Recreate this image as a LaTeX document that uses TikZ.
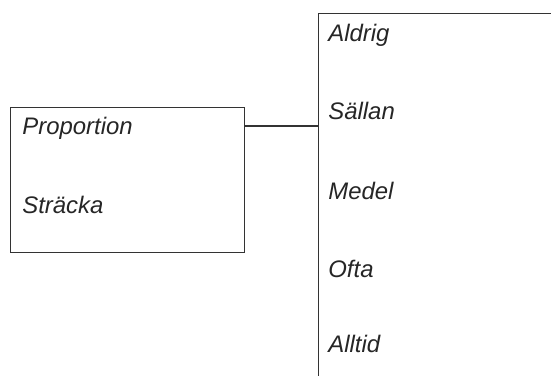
\documentclass[tikz,border=0pt]{standalone}
\usepackage{fontspec}
\setmainfont{Liberation Sans}
\usetikzlibrary{positioning}

\tikzset{
  frame/.style={draw=black!80,line width=0.6pt},
  lbl/.style={anchor=base west,inner sep=0pt,text=black!85,font=\itshape\fontsize{12}{14}\selectfont},
}

\begin{document}
\begin{tikzpicture}
\useasboundingbox (0,0) rectangle (9.72,6.633);
% left box
\node[frame,anchor=north west,minimum width=4.128cm,minimum height=2.558cm] (left) at (0.176,4.745) {};
\node[lbl] (prop) at (0.388,4.269) {Proportion};
\node[lbl] (strk) at (0.388,2.875) {Sträcka};
% right box, runs off the page
\begin{scope}
\clip (0,0) rectangle (9.72,6.633);
\node[frame,anchor=north west,minimum width=5cm,minimum height=7cm] (right) at (5.609,6.403) {};
\end{scope}
\foreach \t/\y [count=\i] in {Aldrig/5.892,Sällan/4.516,Medel/3.105,Ofta/1.746,Alltid/0.406}
  \node[lbl] (opt\i) at (5.786,\y) {\t};
% link
\coordinate (jl) at (left.east |- 0,4.41);
\coordinate (jr) at (right.west |- jl);
\draw[frame] (jl) -- (jr);
\end{tikzpicture}
\end{document}
